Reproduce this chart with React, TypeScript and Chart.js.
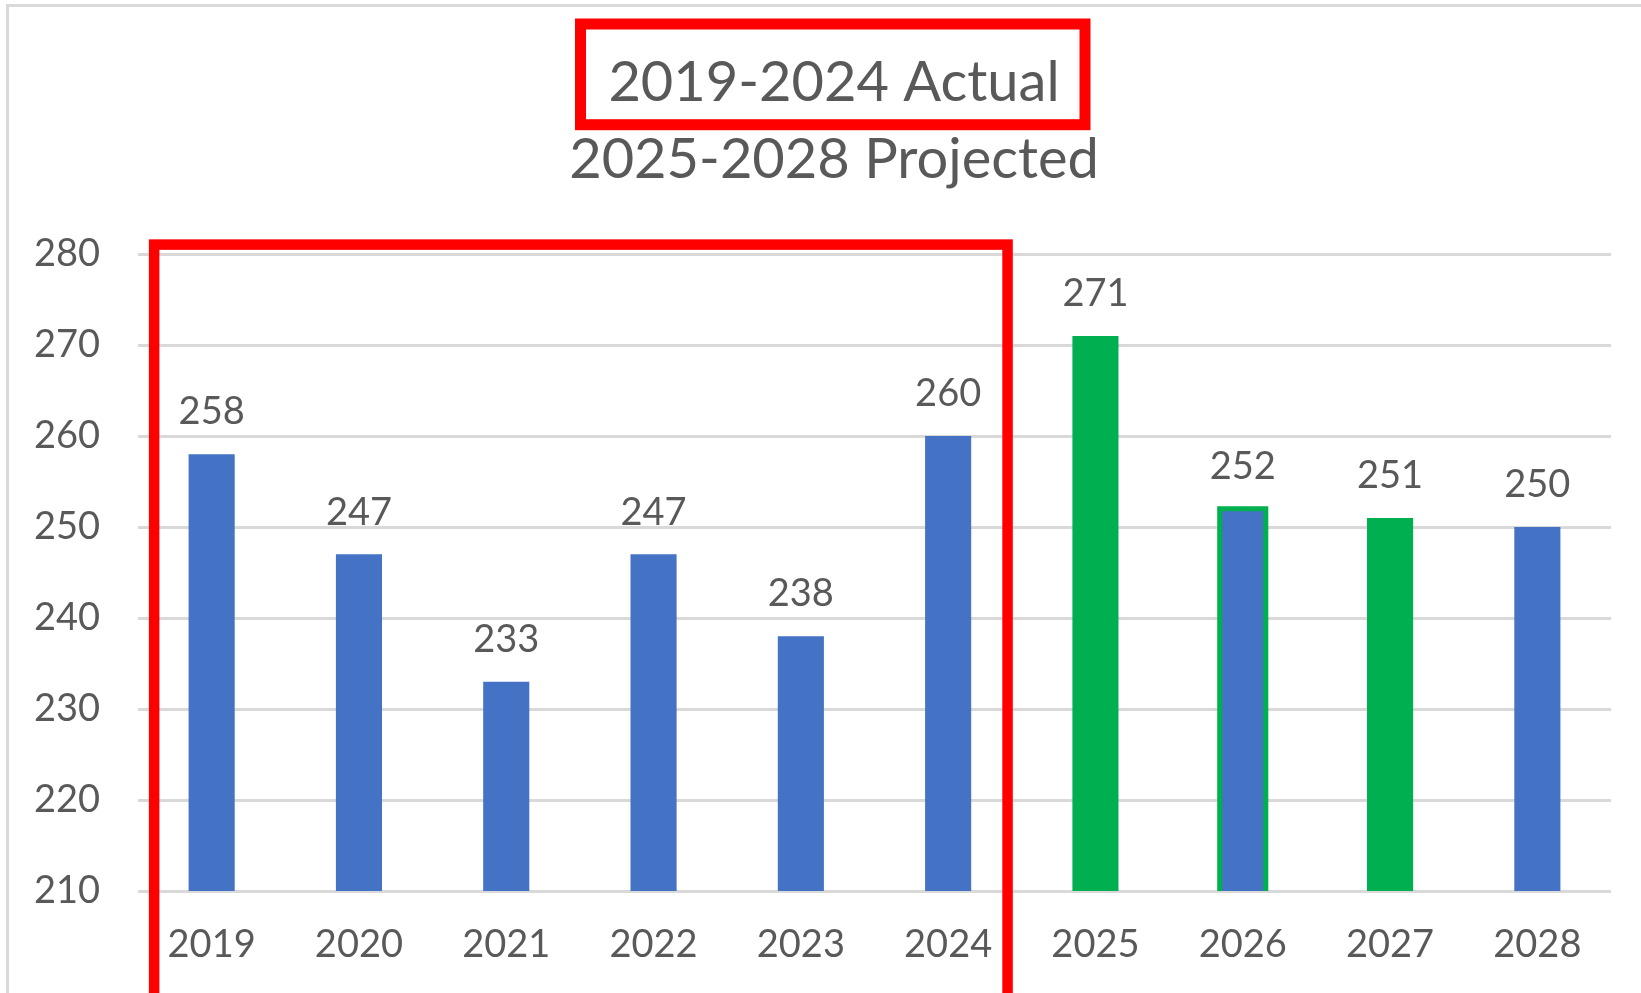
import React, { useEffect, useRef } from "react";
import { Chart, registerables } from "chart.js";

Chart.register(...registerables);

const categories = ["2019", "2020", "2021", "2022", "2023", "2024", "2025", "2026", "2027", "2028"];
const values = [258, 247, 233, 247, 238, 260, 271, 252, 251, 250];
const barColors = ["#4472C4", "#4472C4", "#4472C4", "#4472C4", "#4472C4", "#4472C4", "#00B050", "#4472C4", "#00B050", "#4472C4"];
const outlineColors = ["", "", "", "", "", "", "", "#00B050", "", ""];
const titleLines = ["2019-2024 Actual", "2025-2028 Projected"];
const yMin = 210;
const yMax = 280;
const yStep = 10;

const TEXT = "#595959";
const GRID = "#D9D9D9";
const RED = "#FF0000";
const FONT = "Lato";

const framePlugin = {
  id: "frame",
  beforeDraw(chart: any) {
    const ctx = chart.ctx;
    ctx.save();
    ctx.fillStyle = "#FFFFFF";
    ctx.fillRect(0, 0, chart.width, chart.height);
    ctx.strokeStyle = GRID;
    ctx.lineWidth = 3;
    ctx.strokeRect(7.5, 5.5, chart.width + 40, chart.height + 40);
    ctx.restore();
  },
};

const barExtrasPlugin = {
  id: "barExtras",
  afterDatasetsDraw(chart: any) {
    const ctx = chart.ctx;
    const meta = chart.getDatasetMeta(0);
    const bottom = chart.chartArea.bottom;
    ctx.save();
    meta.data.forEach((el: any, i: number) => {
      const oc = outlineColors[i];
      if (oc) {
        const w = el.width;
        const base = Math.min(el.base, bottom);
        ctx.strokeStyle = oc;
        ctx.lineWidth = 5;
        ctx.beginPath();
        ctx.moveTo(el.x - w / 2, base);
        ctx.lineTo(el.x - w / 2, el.y);
        ctx.lineTo(el.x + w / 2, el.y);
        ctx.lineTo(el.x + w / 2, base);
        ctx.stroke();
      }
      ctx.fillStyle = TEXT;
      ctx.font = `38px ${FONT}`;
      ctx.textAlign = "center";
      ctx.textBaseline = "middle";
      ctx.fillText(String(values[i]), el.x, el.y - 42);
    });
    ctx.restore();
  },
};

const highlightPlugin = {
  id: "highlight",
  afterDraw(chart: any) {
    const ctx = chart.ctx;
    const x = chart.scales.x;
    const y = chart.scales.y;
    ctx.save();
    ctx.strokeStyle = RED;
    ctx.lineJoin = "miter";
    // title highlight
    ctx.lineWidth = 11;
    ctx.strokeRect(580.5, 24, 504.5, 100.7);
    // actual-years highlight
    ctx.lineWidth = 10.5;
    const left = x.getPixelForValue(0) - 57.5;
    const right = x.getPixelForValue(5) + 59.4;
    const top = y.getPixelForValue(yMax) - 9.4;
    ctx.strokeRect(left, top, right - left, chart.height + 40 - top);
    ctx.restore();
  },
};

export default function App() {
  const canvasRef = useRef<HTMLCanvasElement | null>(null);

  useEffect(() => {
    let chart: Chart | null = null;
    let cancelled = false;
    const create = () => {
      if (cancelled || !canvasRef.current) return;
      chart = new Chart(canvasRef.current, {
        type: "bar",
        data: {
          labels: categories,
          datasets: [
            {
              data: values,
              backgroundColor: barColors,
              borderWidth: 0,
              categoryPercentage: 1,
              barPercentage: 0.313,
            },
          ],
        },
        options: {
          animation: false,
          responsive: true,
          maintainAspectRatio: false,
          layout: { padding: { left: 0, right: 0, top: 0, bottom: 0 } },
          plugins: {
            legend: { display: false },
            tooltip: { enabled: false },
            title: {
              display: true,
              text: titleLines,
              color: TEXT,
              font: { family: FONT, size: 56, weight: "normal", lineHeight: 77 / 56 },
              padding: { top: 44, bottom: 56 },
            },
          },
          scales: {
            x: {
              grid: { display: false, drawTicks: false },
              border: { display: false },
              ticks: {
                color: TEXT,
                font: { family: FONT, size: 38 },
                padding: 31,
                maxRotation: 0,
                autoSkip: false,
              },
              afterFit(scale: any) {
                scale.height = 102;
              },
            },
            y: {
              min: yMin,
              max: yMax,
              grid: { color: GRID, lineWidth: 3, drawTicks: false },
              border: { display: false },
              ticks: {
                stepSize: yStep,
                color: TEXT,
                font: { family: FONT, size: 38 },
                padding: 38,
              },
              afterFit(scale: any) {
                scale.width = 138;
              },
            },
            yRight: {
              position: "right",
              display: true,
              grid: { display: false, drawTicks: false },
              border: { display: false },
              ticks: { display: false },
              afterFit(scale: any) {
                scale.width = 57;
              },
            },
          },
        },
        plugins: [framePlugin, barExtrasPlugin, highlightPlugin],
      });
    };
    if ((document as any).fonts && (document as any).fonts.load) {
      Promise.all([
        (document as any).fonts.load(`38px ${FONT}`),
        (document as any).fonts.load(`56px ${FONT}`),
      ]).then(create, create);
    } else {
      create();
    }
    return () => {
      cancelled = true;
      if (chart) chart.destroy();
    };
  }, []);

  return (
    <div style={{ position: "fixed", left: 0, top: 0, width: 1641, height: 993, overflow: "hidden", background: "#fff" }}>
      <div style={{ position: "absolute", left: 0, top: 0, width: 1668, height: 993 }}>
        <canvas ref={canvasRef} style={{ display: "block" }} />
      </div>
    </div>
  );
}
